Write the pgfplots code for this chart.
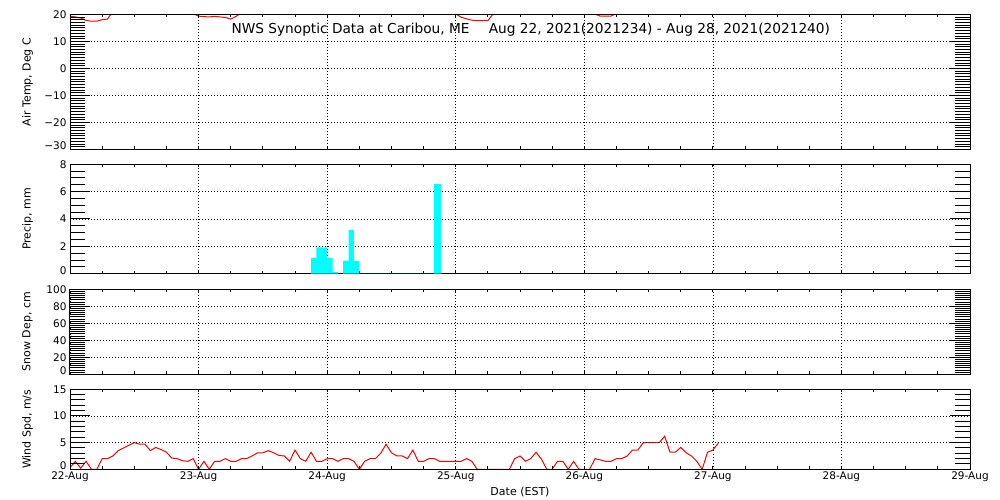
\documentclass[border=0pt]{standalone}
\usepackage{fontspec}
\setmainfont{DejaVu Sans}
\usepackage{pgfplots}
\pgfplotsset{compat=1.18}
\definecolor{idlcyan}{RGB}{0,255,255}
\newcommand{\lowlab}[1]{\raisebox{3.5pt}[\height][\depth]{#1}}

\pgfplotsset{
  panel/.style={
    scale only axis, width=900pt,
    xmin=0, xmax=168,
    xtick={0,24,...,168},
    minor x tick num=3,
    xticklabels={},
    grid=major,
    major grid style={black, line width=0.7pt, dash pattern=on 0.8pt off 2.2pt},
    axis line style={line width=1pt},
    tick style={black, line width=1pt},
    major tick length=20pt, minor tick length=15pt,
    xtick style={/pgfplots/major tick length=3pt, /pgfplots/minor tick length=3pt},
    tick align=inside,
    ticklabel style={font=\fontsize{10.5}{12}\selectfont},
    every axis y label/.style={at={(axis description cs:-0.0472,0.5)}, rotate=90, anchor=center, font=\fontsize{11}{13}\selectfont},
  }
}

\begin{document}
\begin{tikzpicture}
\useasboundingbox (0,0) rectangle (1000pt,500pt);

% air temperature
\begin{axis}[panel, axis on top,
    at={(70pt,350.5pt)}, anchor=south west, height=135pt,
    ymin=-30, ymax=20, ytick={-30,-20,...,20},
    yticklabels={\lowlab{−30},−20,−10,0,10,20},
    minor y tick num=9,
    ylabel={Air Temp, Deg C},
    title={NWS Synoptic Data at Caribou, ME\hspace{1.4em}Aug 22, 2021(2021234) - Aug 28, 2021(2021240)},
    every axis title/.style={at={(axis description cs:0.512,0.885)}, anchor=center, font=\fontsize{13.7}{15}\selectfont},
  ]
  \addplot[red, line width=1pt] coordinates {
    (0,19.4)(1,19.1)(2,18.7)(3,17.8)(4,17.5)(5,17.5)(6,18.1)(7,18.3)(8,21.2)
    (11,25)(14,27)(17,25)(20,22.5)(23,20.4)(24,19.4)(25,19.2)(26,19.1)(27,19.3)
    (28,19.1)(29,18.9)(30,18.3)(31,19.3)(32,20.6)(36,24)(40,27)(44,25)(48,22)
    (52,21)(56,23)(60,27)(64,28)(68,24)(71,21)(72,20.2)(73,19.0)(74,18.4)
    (75,17.9)(76,17.7)(77,17.7)(78,17.7)(79,20.3)(84,26)(90,24)(95,21)(97,20.3)
    (98,20.1)(99,19.4)(100,19.4)(101,19.4)(102,20.5)(106,25)(112,28)(118,24)(121,22)
  };
\end{axis}

% precipitation
\begin{axis}[panel,
    at={(70pt,226.3pt)}, anchor=south west, height=109.4pt,
    ymin=0, ymax=8, ytick={0,2,...,8},
    yticklabels={\lowlab{0},2,4,6,8},
    minor y tick num=3,
    ylabel={Precip, mm},
  ]
  \addplot[ybar interval, fill=idlcyan, draw=none] coordinates {
    (45,1.15)(46,1.93)(48,1.15)(49,0.12)(50,0)(51,0.93)(52,3.2)(53,0.93)(54,0)
    (67.9,6.55)(69.25,0)
  };
\end{axis}

% snow depth
\begin{axis}[panel,
    at={(70pt,125.7pt)}, anchor=south west, height=85pt,
    ymin=0, ymax=100, ytick={0,20,...,100},
    yticklabels={\lowlab{0},20,40,60,80,100},
    minor y tick num=7,
    ylabel={Snow Dep, cm},
  ]
\end{axis}

% wind speed
\begin{axis}[panel, axis on top,
    at={(70pt,30.7pt)}, anchor=south west, height=80pt,
    ymin=0, ymax=15, ytick={0,5,10,15},
    yticklabels={\lowlab{0},5,10,15},
    minor y tick num=4,
    ylabel={Wind Spd, m/s},
    xticklabels={22-Aug,23-Aug,24-Aug,25-Aug,26-Aug,27-Aug,28-Aug,29-Aug},
    xticklabel style={inner sep=0pt, yshift=-2.5pt},
    xlabel={Date (EST)},
    xlabel style={at={(axis description cs:0.5,-0.28)}, anchor=center, font=\fontsize{11}{13}\selectfont},
  ]
  \addplot[red, line width=1pt] coordinates {
    (0,0.3)(1,1.5)(2,0.2)(3,1.5)(4,0)(5,0)(6,2.0)(7,2.0)(8,2.5)(9,3.5)(10,4.0)
    (11,4.5)(12,5.0)(13,4.7)(14,4.7)(15,3.5)(16,4.1)(17,3.7)(18,3.2)(19,2.1)
    (20,2.0)(21,1.6)(22,1.5)(23,2.0)(24,0)(25,1.5)(26,0)(27,1.5)(28,1.5)(29,2.0)
    (30,1.5)(31,1.5)(32,2.0)(33,2.0)(34,2.5)(35,3.1)(36,3.1)(37,3.5)(38,3.1)
    (39,2.6)(40,2.5)(41,1.5)(42,3.6)(43,2.0)(44,1.5)(45,3.2)(46,1.5)(47,1.5)
    (48,2.0)(49,2.0)(50,1.5)(51,2.0)(52,2.0)(53,1.5)(54,0)(55,1.5)(56,2.0)
    (57,2.0)(58,3.0)(59,4.7)(60,3.1)(61,2.5)(62,2.5)(63,2.0)(64,3.6)(65,1.5)
    (66,1.5)(67,2.0)(68,2.0)(69,1.5)(70,1.5)(71,1.5)(72,1.5)(73,1.5)(74,2.0)
    (75,1.5)(76,0)(77,0)(78,0)(79,0)(80,0)(81,0)(82,0)(83,2.0)(84,2.5)(85,1.5)
    (86,2.0)(87,3.2)(88,1.9)(89,0)(90,0)(91,1.5)(92,1.5)(93,0)(94,1.5)(95,0)
    (96,0)(97,0)(98,2.0)(99,1.75)(100,1.5)(101,1.5)(102,2.0)(103,2.0)(104,2.5)
    (105,3.6)(106,3.6)(107,5.0)(108,5.0)(109,5.0)(110,5.0)(111,6.2)(112,3.2)
    (113,3.2)(114,4.1)(115,3.1)(116,2.5)(117,1.5)(118,0)(119,3.2)(120,3.6)(121,4.9)
  };
\end{axis}
\end{tikzpicture}
\end{document}
